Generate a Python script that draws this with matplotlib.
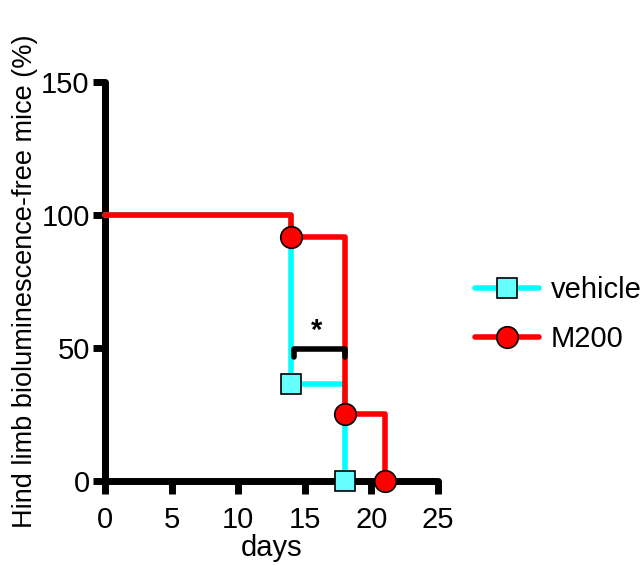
import numpy as np
import matplotlib
matplotlib.use('Agg')
import matplotlib.pyplot as plt

plt.rcParams['font.family'] = ['Liberation Sans', 'DejaVu Sans']

# Kaplan-Meier style curves (percent free of hind limb signal)
vehicle_days = [0, 14, 18]
vehicle_pct = [100, 36.4, 0]
m200_days = [0, 14, 18, 21]
m200_pct = [100, 91.7, 25, 0]

x_ticks = [0, 5, 10, 15, 20, 25]
y_ticks = [0, 50, 100, 150]

FS = 21

fig = plt.figure(figsize=(6.43, 5.65), dpi=100)
ax = fig.add_axes([0.1633, 0.1487, 0.5179, 0.7062])

ax.step(vehicle_days, vehicle_pct, where='post', color='#00ffff', lw=4,
        solid_joinstyle='round', solid_capstyle='round', zorder=3, clip_on=False)
ax.step(m200_days, m200_pct, where='post', color='#ff0000', lw=4,
        solid_joinstyle='round', solid_capstyle='round', zorder=4, clip_on=False)
ax.plot(vehicle_days[1:], vehicle_pct[1:], ls='none', marker='s', ms=14,
        mfc='#66ffff', mec='black', mew=1.2, zorder=6, clip_on=False)
ax.plot(m200_days[1:], m200_pct[1:], ls='none', marker='o', ms=15.5,
        mfc='#ff0000', mec='black', mew=1.2, zorder=6, clip_on=False)

# legend proxies
h1, = ax.plot([], [], color='#00ffff', lw=4, solid_capstyle='round', marker='s', ms=14,
              mfc='#66ffff', mec='black', mew=1.2)
h2, = ax.plot([], [], color='#ff0000', lw=4, solid_capstyle='round', marker='o', ms=15.5,
              mfc='#ff0000', mec='black', mew=1.2)
fig.legend([h1, h2], ['vehicle', 'M200'], loc='center left',
           bbox_to_anchor=(0.739, 0.443), frameon=False, fontsize=FS,
           handlelength=2.2, labelspacing=0.72, handletextpad=0.4,
           borderpad=0, borderaxespad=0)

# significance bracket
ax.plot([14.2, 14.2, 18, 18], [46.5, 49.5, 49.5, 46.5], color='black', lw=4,
        solid_joinstyle='round', solid_capstyle='round', zorder=5)
ax.text(15.9, 51, '*', ha='center', va='bottom', fontsize=FS, fontweight='bold')

ax.set_xlim(0, 25)
ax.set_ylim(0, 150)
ax.set_xticks(x_ticks)
ax.set_yticks(y_ticks)
ax.tick_params(axis='both', length=9, width=5, labelsize=FS)
ax.tick_params(axis='x', pad=9)
ax.tick_params(axis='y', pad=2)
for side in ['top', 'right']:
    ax.spines[side].set_visible(False)
for side in ['left', 'bottom']:
    ax.spines[side].set_linewidth(5)
    ax.spines[side].set_capstyle('round')

ax.set_xlabel('days', fontsize=FS, labelpad=0)
ax.set_ylabel('Hind limb bioluminescence-free mice (%)', fontsize=19.5, labelpad=2)

fig.savefig('out.png', dpi=100)
